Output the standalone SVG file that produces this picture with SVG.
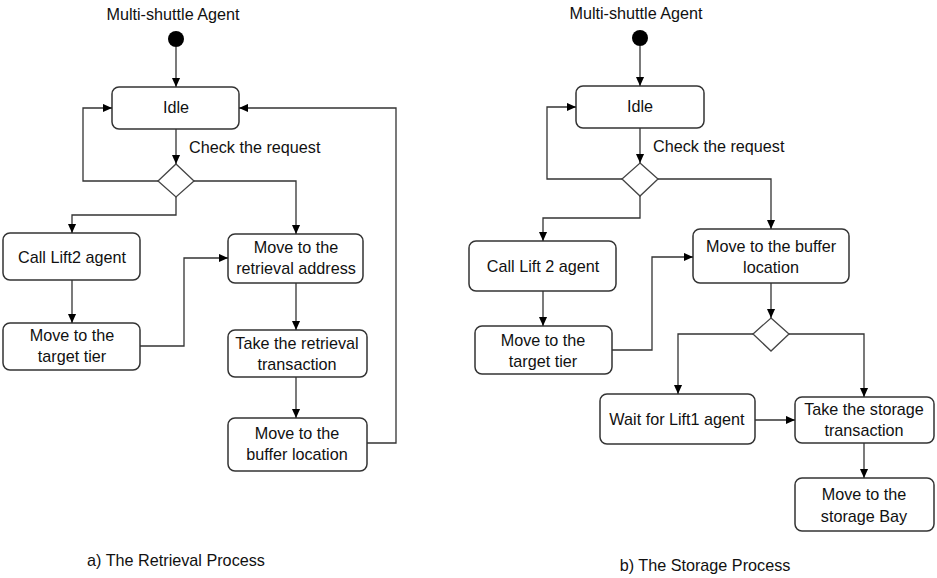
<svg xmlns="http://www.w3.org/2000/svg" width="937" height="578" viewBox="0 0 937 578">
<style>
  .box{fill:#fff;stroke:#333;stroke-width:1.5}
  .dia{fill:#fff;stroke:#444;stroke-width:1.3}
  .ln{fill:none;stroke:#333;stroke-width:1.3}
  text{font-family:"Liberation Sans",Arial,sans-serif;font-size:16.2px;fill:#111;text-anchor:middle}
  .st{text-anchor:start}
</style>
<defs>
  <marker id="ah" viewBox="0 0 10 10" refX="10" refY="5" markerWidth="9" markerHeight="9" markerUnits="userSpaceOnUse" orient="auto">
    <path d="M0,0.5 L10,5 L0,9.5 z" fill="#000"/>
  </marker>
</defs>
<rect width="937" height="578" fill="#fff"/>

<!-- Retrieval process -->
<g id="a-title"><text x="173" y="20">Multi-shuttle Agent</text></g>
<g id="a-start"><circle cx="176" cy="39" r="8" fill="#000"/></g>
<g id="a-idle"><rect class="box" x="112" y="87" width="127" height="42" rx="7"/><text x="176" y="113">Idle</text></g>
<g id="a-dec"><polygon class="dia" points="176,164 194,181 176,197 158,181"/></g>
<g id="a-lift2"><rect class="box" x="3" y="233" width="137" height="47" rx="7"/><text x="72" y="263">Call Lift2 agent</text></g>
<g id="a-retr"><rect class="box" x="228" y="234" width="135" height="49" rx="7"/><text x="296" y="253">Move to the</text><text x="296" y="274">retrieval address</text></g>
<g id="a-tier"><rect class="box" x="3" y="323" width="137" height="47" rx="7"/><text x="72" y="341">Move to the</text><text x="72" y="362">target tier</text></g>
<g id="a-take"><rect class="box" x="228" y="330" width="139" height="47" rx="7"/><text x="297" y="349">Take the retrieval</text><text x="297" y="370">transaction</text></g>
<g id="a-buf"><rect class="box" x="228" y="418" width="139" height="53" rx="7"/><text x="297" y="439">Move to the</text><text x="297" y="460">buffer location</text></g>
<g id="a-caption"><text x="176" y="566">a) The Retrieval Process</text></g>

<!-- Storage process -->
<g id="b-title"><text x="636" y="19">Multi-shuttle Agent</text></g>
<g id="b-start"><circle cx="640" cy="38" r="8" fill="#000"/></g>
<g id="b-idle"><rect class="box" x="576" y="86" width="128" height="42" rx="7"/><text x="640" y="112">Idle</text></g>
<g id="b-dec1"><polygon class="dia" points="640,163 658,179 640,196 622,179"/></g>
<g id="b-lift2"><rect class="box" x="469" y="241" width="147" height="50" rx="7"/><text x="543" y="272">Call Lift 2 agent</text></g>
<g id="b-buf"><rect class="box" x="693" y="229" width="156" height="54" rx="7"/><text x="771" y="252">Move to the buffer</text><text x="771" y="273">location</text></g>
<g id="b-tier"><rect class="box" x="475" y="326" width="137" height="48" rx="7"/><text x="543" y="346">Move to the</text><text x="543" y="367">target tier</text></g>
<g id="b-dec2"><polygon class="dia" points="771,318 789,334 771,351 753,334"/></g>
<g id="b-wait"><rect class="box" x="600" y="394" width="155" height="50" rx="7"/><text x="677" y="425">Wait for Lift1 agent</text></g>
<g id="b-take"><rect class="box" x="795" y="397" width="139" height="46" rx="7"/><text x="864" y="415">Take the storage</text><text x="864" y="436">transaction</text></g>
<g id="b-bay"><rect class="box" x="795" y="478" width="139" height="53" rx="7"/><text x="864" y="500">Move to the</text><text x="864" y="522">storage Bay</text></g>
<g id="b-caption"><text x="705" y="571">b) The Storage Process</text></g>
<g id="labels"><text class="st" x="189" y="153">Check the request</text><text class="st" x="653" y="152">Check the request</text></g>

<g id="connectors">
  <path class="ln" d="M176,47 V87" marker-end="url(#ah)"/>
  <path class="ln" d="M176,129 V164" marker-end="url(#ah)"/>
  <path class="ln" d="M158,181 H83 V108 H112" marker-end="url(#ah)"/>
  <path class="ln" d="M194,181 H296 V234" marker-end="url(#ah)"/>
  <path class="ln" d="M176,197 V215 H72 V233" marker-end="url(#ah)"/>
  <path class="ln" d="M72,280 V323" marker-end="url(#ah)"/>
  <path class="ln" d="M140,346 H184 V258 H228" marker-end="url(#ah)"/>
  <path class="ln" d="M296,283 V330" marker-end="url(#ah)"/>
  <path class="ln" d="M296,377 V418" marker-end="url(#ah)"/>
  <path class="ln" d="M367,443 H396 V108 H239" marker-end="url(#ah)"/>

  <path class="ln" d="M640,46 V86" marker-end="url(#ah)"/>
  <path class="ln" d="M640,128 V163" marker-end="url(#ah)"/>
  <path class="ln" d="M622,179 H547 V107 H576" marker-end="url(#ah)"/>
  <path class="ln" d="M658,179 H771 V229" marker-end="url(#ah)"/>
  <path class="ln" d="M640,196 V218 H543 V241" marker-end="url(#ah)"/>
  <path class="ln" d="M543,291 V326" marker-end="url(#ah)"/>
  <path class="ln" d="M612,350 H652 V257 H693" marker-end="url(#ah)"/>
  <path class="ln" d="M771,283 V318" marker-end="url(#ah)"/>
  <path class="ln" d="M753,334 H678 V394" marker-end="url(#ah)"/>
  <path class="ln" d="M789,334 H864 V397" marker-end="url(#ah)"/>
  <path class="ln" d="M755,420 H795" marker-end="url(#ah)"/>
  <path class="ln" d="M864,443 V478" marker-end="url(#ah)"/>
</g>
</svg>
